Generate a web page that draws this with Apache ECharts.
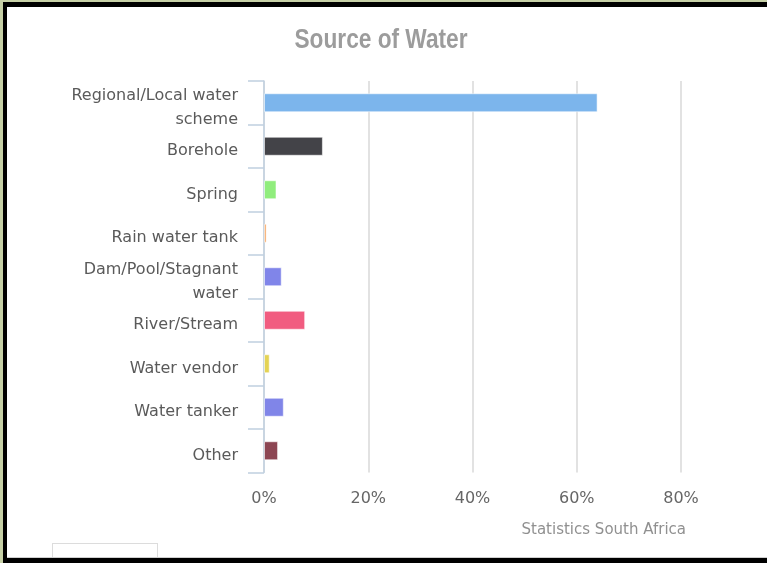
<!DOCTYPE html>
<html>
<head>
<meta charset="utf-8">
<script src="https://cdn.jsdelivr.net/npm/echarts@6/dist/echarts.min.js"></script>
<style>
  html, body { margin: 0; padding: 0; background: #fff; }
  #wrap { position: relative; width: 767px; height: 563px; overflow: hidden; }
  #chart { position: absolute; left: 0; top: 0; width: 767px; height: 563px; }
  .edge { position: absolute; }
</style>
</head>
<body>
<div id="wrap">
  <div id="chart"></div>
  <!-- frame around the panel -->
  <div class="edge" style="left:0;top:0;width:767px;height:2px;background:#c6d0a6;"></div>
  <div class="edge" style="left:0;top:0;width:3px;height:563px;background:#c6d0a6;"></div>
  <div class="edge" style="left:3px;top:2px;width:764px;height:5px;background:#000;"></div>
  <div class="edge" style="left:3px;top:2px;width:4px;height:561px;background:#000;"></div>
  <div class="edge" style="left:52px;top:543px;width:106px;height:20px;border:1px solid #dcdcdc;box-sizing:border-box;background:#fff;"></div>
  <div class="edge" style="left:7px;top:557px;width:760px;height:1px;background:#cfcfcf;"></div>
  <div class="edge" style="left:3px;top:558px;width:764px;height:5px;background:#000;"></div>
</div>
<script>
// Household main source of drinking water (share of households, %)
const categories = [
  'Regional/Local water\nscheme',
  'Borehole',
  'Spring',
  'Rain water tank',
  'Dam/Pool/Stagnant\nwater',
  'River/Stream',
  'Water vendor',
  'Water tanker',
  'Other'
];
const shares = [64.0, 11.3, 2.4, 0.5, 3.4, 7.9, 1.1, 3.8, 2.7];
const barColors = ['#7cb5ec', '#434348', '#90ed7d', '#f7a35c', '#8085e9',
                   '#f15c80', '#e4d354', '#8085e8', '#8d4653'];
const xTicks = { min: 0, max: 80, step: 20 };
const chartTitle = 'Source of Water';
const sourceNote = 'Statistics South Africa';

const chart = echarts.init(document.getElementById('chart'), null, { renderer: 'canvas' });

const labelFont = '"DejaVu Sans", Verdana, sans-serif';

chart.setOption({
  animation: false,
  backgroundColor: '#ffffff',
  title: {
    text: sourceNote,
    right: 76,
    top: 518,
    textStyle: {
      fontFamily: labelFont,
      fontWeight: 'normal',
      fontSize: 15,
      color: '#909090'
    }
  },
  // condensed bold heading
  graphic: [{
    type: 'text',
    x: 381,
    y: 41,
    scaleX: 0.84,
    style: {
      text: chartTitle,
      font: 'bold 27px "Liberation Sans", Arial, sans-serif',
      fill: '#9c9c9c',
      align: 'center',
      verticalAlign: 'middle'
    }
  }],
  grid: { left: 264, right: 86, top: 81, bottom: 90.5, containLabel: false },
  xAxis: {
    type: 'value',
    min: xTicks.min,
    max: xTicks.max,
    interval: xTicks.step,
    axisLine: { show: false },
    axisTick: { show: false },
    splitLine: { show: true, lineStyle: { color: '#d8d8d8', width: 1.5 } },
    axisLabel: {
      formatter: '{value}%',
      margin: 18,
      fontFamily: labelFont,
      fontSize: 16,
      color: '#666666'
    }
  },
  yAxis: {
    type: 'category',
    data: categories,
    inverse: true,
    axisLine: { show: true, lineStyle: { color: '#c0d0e0', width: 1.5 } },
    axisTick: { show: true, length: 16, lineStyle: { color: '#c0d0e0', width: 1.5 } },
    splitLine: { show: false },
    axisLabel: {
      interval: 0,
      hideOverlap: false,
      margin: 26,
      // a small spacer line sits the text slightly below the band centre
      formatter: (name) => '{s| }\n' + name.split('\n').map((l) => '{t|' + l + '}').join('\n'),
      rich: {
        s: { fontSize: 1, lineHeight: 10 },
        t: {
          fontFamily: labelFont,
          fontSize: 16,
          lineHeight: 24,
          color: '#5a5a5a',
          align: 'right'
        }
      }
    }
  },
  series: [{
    type: 'bar',
    data: shares.map((v, i) => ({ value: v, itemStyle: { color: barColors[i] } })),
    barWidth: 19,
    itemStyle: { borderColor: 'rgba(255,255,255,0.55)', borderWidth: 1 }
  }]
});
</script>
</body>
</html>
